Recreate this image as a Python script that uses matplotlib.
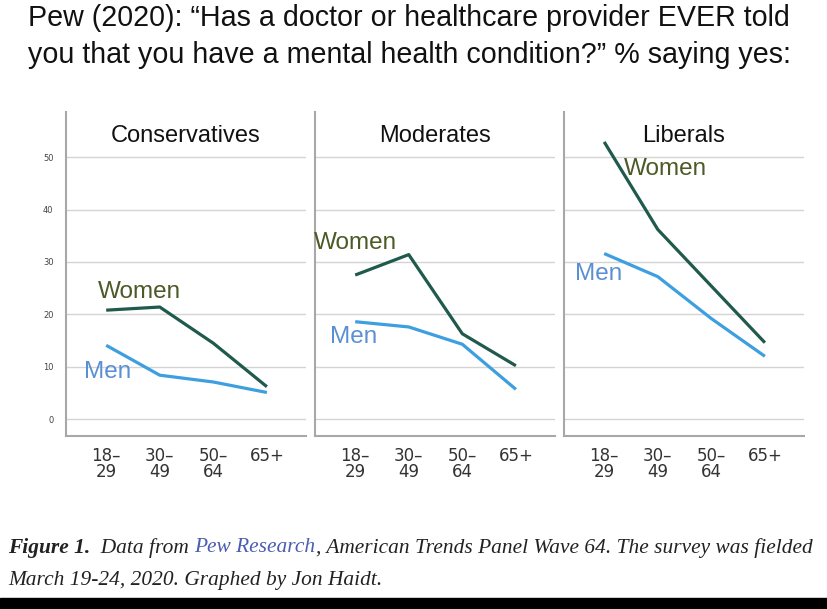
import numpy as np
import matplotlib.pyplot as plt

# Values (percent saying yes)
groups = ["Conservatives", "Moderates", "Liberals"]
ages = ["18–\n29", "30–\n49", "50–\n64", "65+"]
women = {
    "Conservatives": [20.8, 21.4, 14.5, 6.2],
    "Moderates": [27.5, 31.4, 16.3, 10.2],
    "Liberals": [52.9, 36.2, 25.4, 14.6],
}
men = {
    "Conservatives": [14.1, 8.4, 7.1, 5.1],
    "Moderates": [18.6, 17.6, 14.3, 5.7],
    "Liberals": [31.6, 27.2, 19.2, 12.0],
}
yticks = [0, 10, 20, 30, 40, 50]

# where the "Women"/"Men" labels sit in each panel (data coords)
women_lab = {"Conservatives": (-0.15, 24.2), "Moderates": (-0.78, 33.6), "Liberals": (0.37, 47.7)}
men_lab = {"Conservatives": (-0.41, 9.0), "Moderates": (-0.47, 15.6), "Liberals": (-0.54, 27.7)}

women_col = "#1f5a4c"
men_col = "#3d9fe0"
women_txt = "#4b5a26"
men_txt = "#5b8fd3"

fig = plt.figure(figsize=(8.28, 6.09), dpi=100)
fig.patch.set_facecolor("white")

lefts = [66, 315, 564]
x = np.arange(len(ages))
for i, g in enumerate(groups):
    ax = fig.add_axes([lefts[i] / 828, (609 - 436) / 609, 240 / 828, (436 - 112) / 609])
    ax.plot(x, women[g], color=women_col, lw=2.3, solid_capstyle="butt")
    ax.plot(x, men[g], color=men_col, lw=2.3, solid_capstyle="butt")
    ax.set_xlim(-0.75, 3.73)
    ax.set_ylim(-3.2, 58.6)
    ax.set_yticks(yticks)
    ax.grid(axis="y", color="#d4d4d4", lw=1.0)
    ax.set_axisbelow(True)
    for s in ["top", "right"]:
        ax.spines[s].set_visible(False)
    for s in ["left", "bottom"]:
        ax.spines[s].set_color("#a8a8a8")
        ax.spines[s].set_linewidth(1.5)
    ax.set_xticks(x)
    ax.set_xticklabels(ages, fontsize=12, color="#333333", linespacing=0.85)
    ax.tick_params(axis="x", length=0, pad=8)
    if i == 0:
        ax.tick_params(axis="y", length=0, pad=9, labelsize=6, labelcolor="#444444")
    else:
        ax.tick_params(axis="y", length=0, labelleft=False)
    ax.text(0.5, 0.927, g, transform=ax.transAxes, ha="center", va="center",
            fontsize=17, family="Liberation Sans", color="#111111")
    wx, wy = women_lab[g]
    ax.text(wx, wy, "Women", ha="left", va="center", fontsize=17.5,
            family="Liberation Sans", color=women_txt)
    mx, my = men_lab[g]
    ax.text(mx, my, "Men", ha="left", va="center", fontsize=17.5,
            family="Liberation Sans", color=men_txt)

# heading
fig.text(28 / 828, 1 - 18 / 609, "Pew (2020): \u201cHas a doctor or healthcare provider EVER told",
         ha="left", va="center", fontsize=20.6, family="Liberation Sans", color="#111111")
fig.text(28 / 828, 1 - 55 / 609, "you that you have a mental health condition?\u201d % saying yes:",
         ha="left", va="center", fontsize=20.6, family="Liberation Sans", color="#111111")

# caption, built piece by piece
fig.canvas.draw()
renderer = fig.canvas.get_renderer()
pieces = [
    ("Figure 1.", "bold", "#222222"),
    ("  Data from ", "normal", "#222222"),
    ("Pew Research", "normal", "#4a5db0"),
    (", American Trends Panel Wave 64. The survey was fielded", "normal", "#222222"),
]
xpos = 8
for txt, wt, col in pieces:
    t = fig.text(xpos / 828, 1 - 548 / 609, txt, ha="left", va="center", fontsize=15.4,
                 family="Liberation Serif", style="italic", weight=wt, color=col)
    xpos += t.get_window_extent(renderer).width
fig.text(8 / 828, 1 - 580 / 609, "March 19-24, 2020. Graphed by Jon Haidt.", ha="left", va="center",
         fontsize=15.4, family="Liberation Serif", style="italic", color="#222222")

# black strip at the bottom
fig.patches.append(plt.Rectangle((0, 0), 1, 11 / 609, transform=fig.transFigure,
                                 color="black", zorder=5))

fig.savefig("out.png", dpi=100)
